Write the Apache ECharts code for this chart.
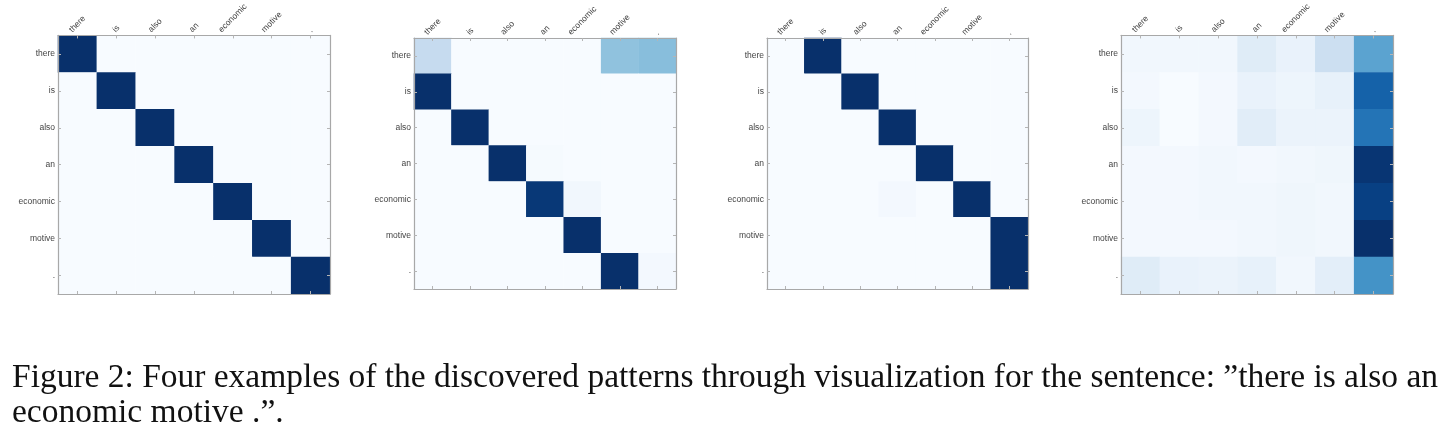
<!DOCTYPE html>
<html>
<head>
<meta charset="utf-8">
<script src="https://cdn.jsdelivr.net/npm/echarts@6/dist/echarts.min.js"></script>
<style>
  html, body { margin: 0; padding: 0; background: #fff; }
  #main { width: 1451px; height: 435px; }
</style>
</head>
<body>
<div id="main"></div>
<script>
// tokens of the sentence (same for both axes)
const words = ['there', 'is', 'also', 'an', 'economic', 'motive', '.'];

// attention weights, rows = y (top to bottom), cols = x
const panel1 = [
  [1, 0, 0, 0, 0, 0, 0],
  [0, 1, 0, 0, 0, 0, 0],
  [0, 0, 1, 0, 0, 0, 0],
  [0, 0, 0, 1, 0, 0, 0],
  [0, 0, 0, 0, 1, 0, 0],
  [0, 0, 0, 0, 0, 1, 0],
  [0, 0, 0, 0, 0, 0, 1]
];
const panel2 = [
  [0.25, 0, 0, 0, 0, 0.41, 0.43],
  [1, 0, 0, 0, 0, 0, 0],
  [0, 1, 0, 0, 0, 0, 0],
  [0, 0, 1, 0.01, 0, 0, 0],
  [0, 0, 0, 0.97, 0.03, 0, 0],
  [0, 0, 0, 0, 1, 0, 0],
  [0, 0, 0, 0, 0, 1, 0.02]
];
const panel3 = [
  [0, 1, 0, 0, 0, 0, 0],
  [0, 0, 1, 0, 0, 0, 0],
  [0, 0, 0, 1, 0, 0, 0],
  [0, 0, 0, 0, 1, 0, 0],
  [0, 0, 0, 0.02, 0, 1, 0],
  [0, 0, 0, 0, 0, 0, 1],
  [0, 0, 0, 0, 0, 0, 1]
];
const panel4 = [
  [0.03, 0.03, 0.03, 0.12, 0.07, 0.22, 0.55],
  [0.02, 0.0, 0.02, 0.07, 0.05, 0.08, 0.81],
  [0.05, 0.0, 0.02, 0.11, 0.06, 0.06, 0.74],
  [0.02, 0.02, 0.03, 0.02, 0.03, 0.04, 0.98],
  [0.02, 0.02, 0.03, 0.03, 0.04, 0.03, 0.94],
  [0.02, 0.02, 0.02, 0.03, 0.04, 0.03, 1.0],
  [0.12, 0.07, 0.06, 0.08, 0.03, 0.1, 0.62]
];
const panels = [panel1, panel2, panel3, panel4];

const captionLines = [
  'Figure 2: Four examples of the discovered patterns through visualization for the sentence: \u201dthere is also an',
  'economic motive .\u201d.'
];

// matplotlib "Blues"
const blues = ['#f7fbff', '#deebf7', '#c6dbef', '#9ecae1', '#6baed6', '#4292c6', '#2171b5', '#08519c', '#08306b'];

const grids = [
  { left: 58, top: 33, width: 272, height: 261 },
  { left: 414, top: 38, width: 262, height: 251 },
  { left: 767, top: 38, width: 261, height: 251 },
  { left: 1121, top: 33, width: 272, height: 261 }
];

const ctx = document.createElement('canvas').getContext('2d');

const labelSize = 8.5;
const labelFamily = 'Liberation Sans';
const labelColor = '#444';
const frameLine = { show: true, lineStyle: { color: '#a8a8a8', width: 1.2 } };
const tick = { show: true, inside: true, length: 3, interval: 0, alignWithLabel: true, lineStyle: { color: '#b5b5b5' } };

// rotated top labels: matplotlib centres the rotated box over the tick,
// so every word gets its own padding to lift it clear of the axis
ctx.font = labelSize + 'px "' + labelFamily + '"';
let topRich = {};
words.forEach(function (w, k) {
  const tw = ctx.measureText(w).width;
  const lift = 2 + (tw + labelSize * 0.8) * 0.354;
  const p = lift * 1.414;
  topRich['w' + k] = {
    fontFamily: labelFamily, fontSize: labelSize, color: labelColor,
    padding: [0, 0, p, p]
  };
});

let xAxes = [], yAxes = [], series = [], visualMaps = [];
panels.forEach(function (m, i) {
  // top axis with labels, bottom one only for the frame
  xAxes.push({
    type: 'category', data: words, gridIndex: i, position: 'top', z: 5,
    axisLine: frameLine, axisTick: tick,
    axisLabel: {
      rotate: -45, margin: 0, interval: 0, align: 'center', verticalAlign: 'middle',
      formatter: function (v) { return '{w' + words.indexOf(v) + '|' + v + '}'; },
      rich: topRich
    }
  });
  xAxes.push({
    type: 'category', data: words, gridIndex: i, position: 'bottom', z: 5,
    axisLine: frameLine, axisTick: tick, axisLabel: { show: false }
  });
  yAxes.push({
    type: 'category', data: words, gridIndex: i, inverse: true, position: 'left', z: 5,
    axisLine: frameLine, axisTick: tick,
    axisLabel: { margin: 3, interval: 0, fontFamily: labelFamily, fontSize: labelSize, color: labelColor }
  });
  yAxes.push({
    type: 'category', data: words, gridIndex: i, inverse: true, position: 'right', z: 5,
    axisLine: frameLine, axisTick: tick, axisLabel: { show: false }
  });

  let data = [];
  m.forEach(function (row, y) {
    row.forEach(function (v, x) { data.push([x, y, v]); });
  });
  series.push({
    type: 'heatmap', xAxisIndex: i * 2, yAxisIndex: i * 2, data: data,
    itemStyle: { borderWidth: 0 }, emphasis: { disabled: true }, z: 1
  });
  visualMaps.push({
    type: 'continuous', show: false, seriesIndex: i, min: 0, max: 1,
    inRange: { color: blues }
  });
});

// caption: first line is justified to the full text width like in the paper
const captionFont = '33.5px "Liberation Serif"';
const captionLeft = 12, captionWidth = 1426;
ctx.font = captionFont;
let captionItems = [];
captionLines.forEach(function (line, k) {
  const top = 361 + k * 35;
  if (k === captionLines.length - 1) {
    captionItems.push({ type: 'text', x: captionLeft, y: top,
      style: { text: line, font: captionFont, fill: '#111', textVerticalAlign: 'top' } });
    return;
  }
  const parts = line.split(' ');
  const widths = parts.map(function (p) { return ctx.measureText(p).width; });
  const total = widths.reduce(function (a, b) { return a + b; }, 0);
  const gap = (captionWidth - total) / (parts.length - 1);
  let x = captionLeft;
  parts.forEach(function (p, j) {
    captionItems.push({ type: 'text', x: x, y: top,
      style: { text: p, font: captionFont, fill: '#111', textVerticalAlign: 'top' } });
    x += widths[j] + gap;
  });
});

const chart = echarts.init(document.getElementById('main'));
chart.setOption({
  animation: false,
  grid: grids,
  xAxis: xAxes,
  yAxis: yAxes,
  visualMap: visualMaps,
  series: series,
  graphic: captionItems
});
</script>
</body>
</html>
